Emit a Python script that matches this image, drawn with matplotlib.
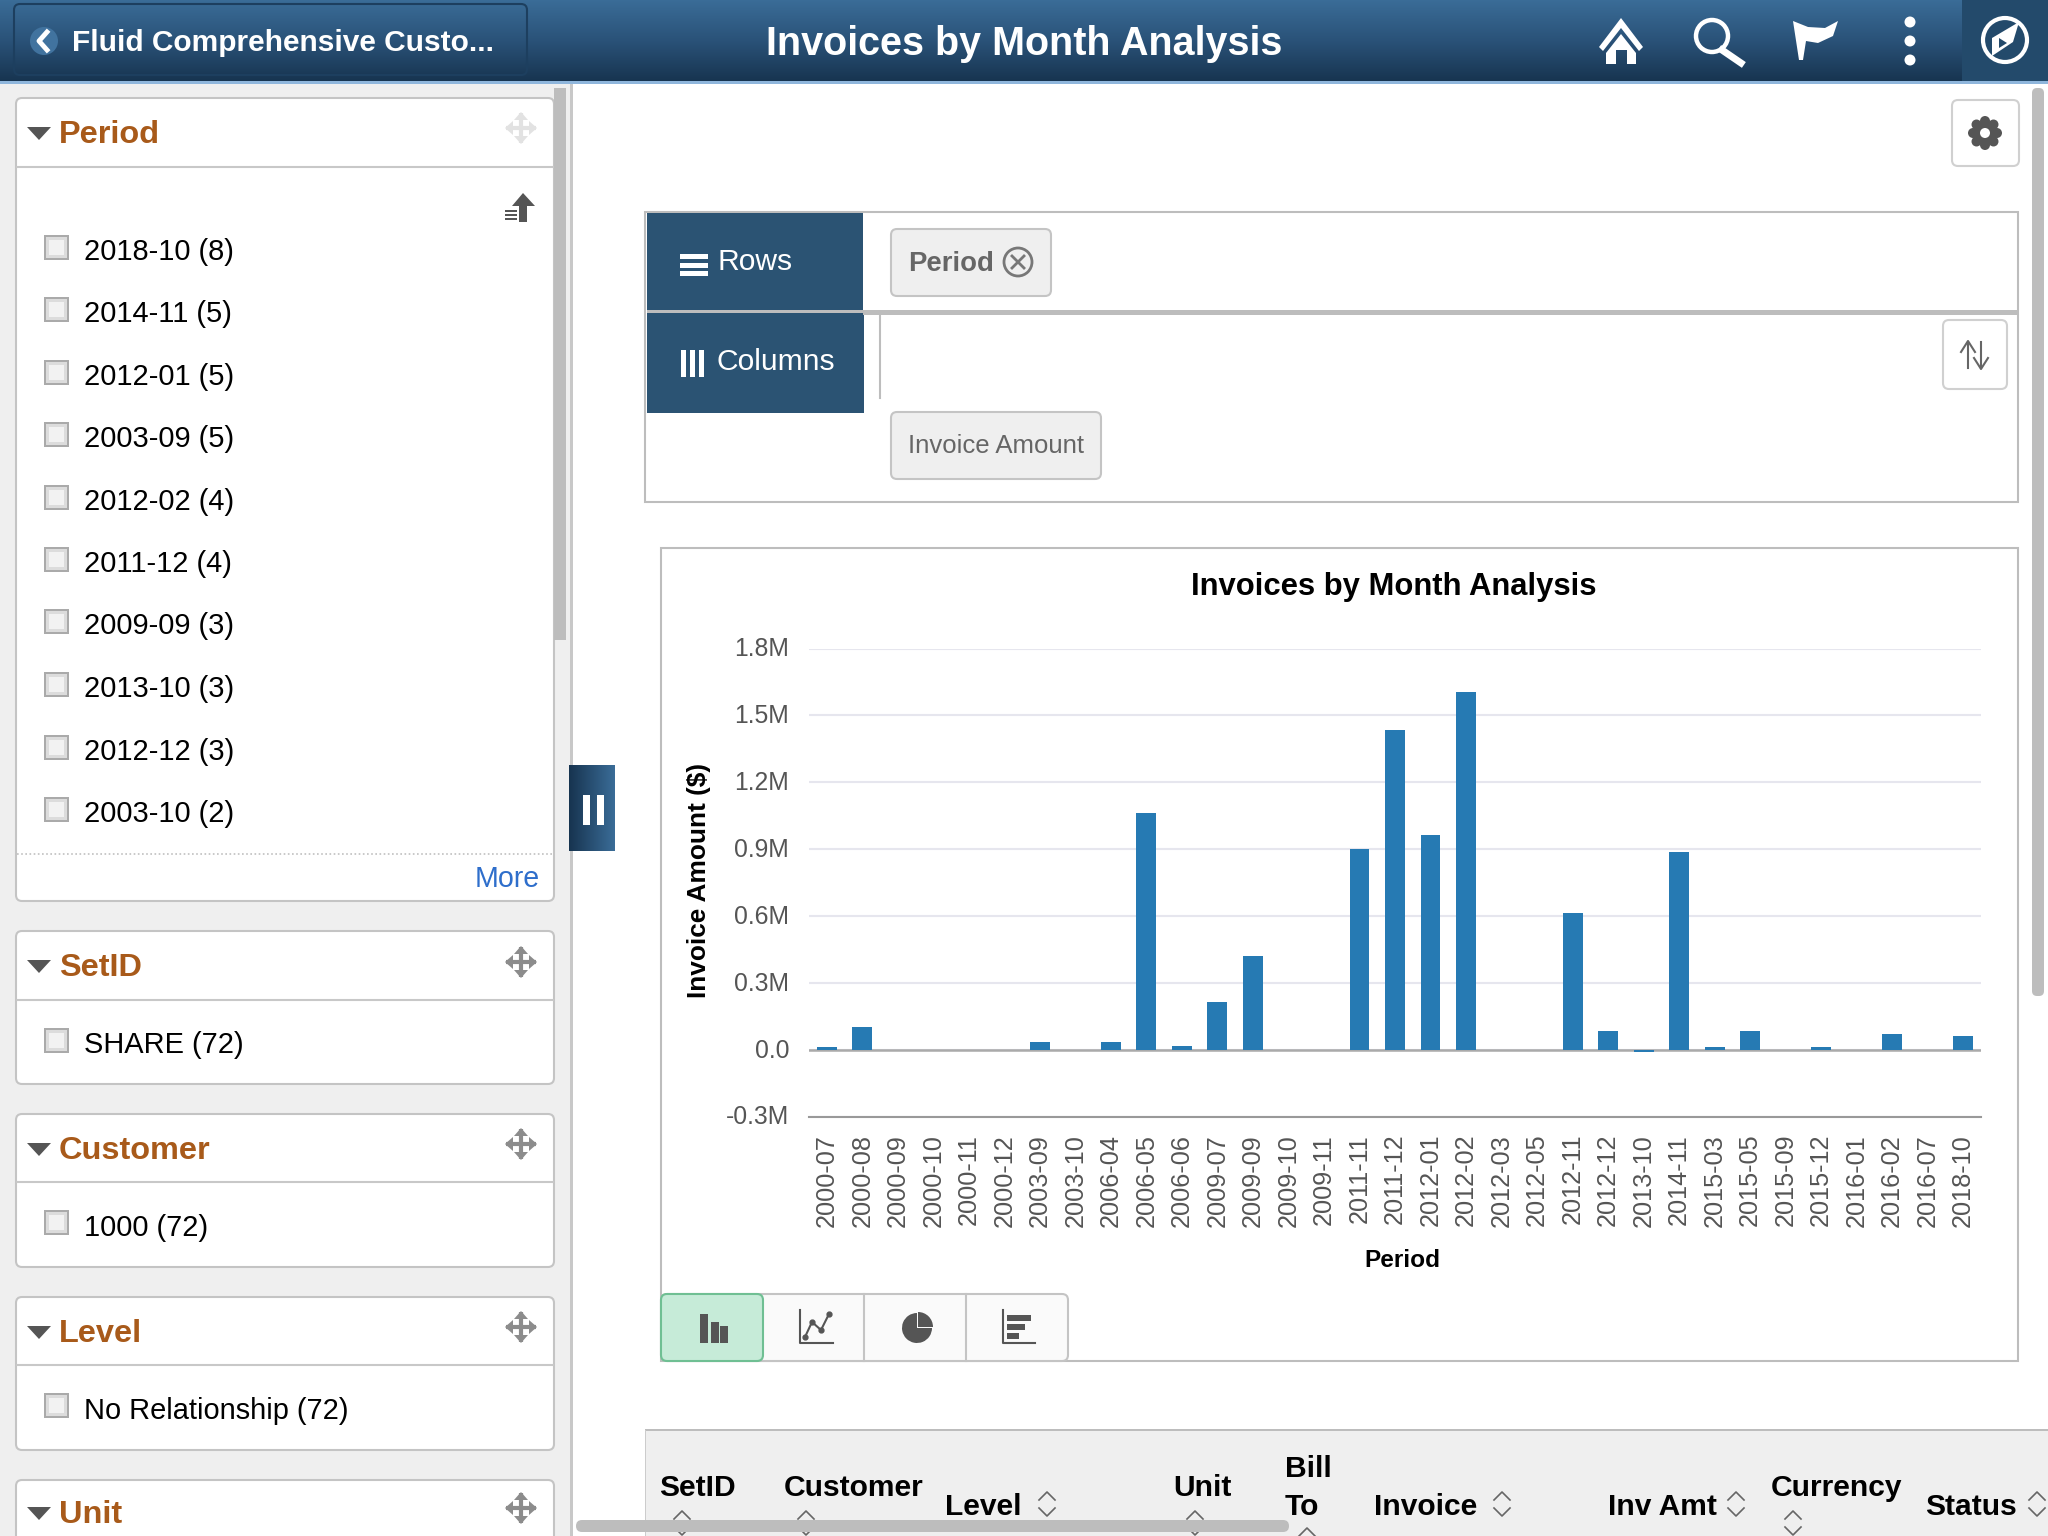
import numpy as np
import matplotlib
matplotlib.use("Agg")
import matplotlib.pyplot as plt
from matplotlib.colors import LinearSegmentedColormap
from matplotlib.patches import Circle, FancyBboxPatch, Polygon, Rectangle, Wedge
from matplotlib.transforms import ScaledTranslation

plt.rcParams['font.family'] = ['Liberation Sans', 'DejaVu Sans']

# chart data
periods = ['2000-07', '2000-08', '2000-09', '2000-10', '2000-11', '2000-12', '2003-09',
           '2003-10', '2006-04', '2006-05', '2006-06', '2009-07', '2009-09', '2009-10',
           '2009-11', '2011-11', '2011-12', '2012-01', '2012-02', '2012-03', '2012-05',
           '2012-11', '2012-12', '2013-10', '2014-11', '2015-03', '2015-05', '2015-09',
           '2015-12', '2016-01', '2016-02', '2016-07', '2018-10']
amounts = [0.012, 0.100, 0, 0, 0, 0, 0.033,
           0, 0.034, 1.063, 0.016, 0.216, 0.422, 0,
           0, 0.902, 1.435, 0.965, 1.605, 0, 0,
           0.612, 0.084, -0.012, 0.888, 0.010, 0.084, 0,
           0.012, 0, 0.072, 0, 0.062]
y_ticks = [-0.3, 0.0, 0.3, 0.6, 0.9, 1.2, 1.5, 1.8]
y_tick_labels = ['-0.3M', '0.0', '0.3M', '0.6M', '0.9M', '1.2M', '1.5M', '1.8M']

# facet panel text
period_items = ['2018-10 (8)', '2014-11 (5)', '2012-01 (5)', '2003-09 (5)', '2012-02 (4)',
                '2011-12 (4)', '2009-09 (3)', '2013-10 (3)', '2012-12 (3)', '2003-10 (2)']
period_item_y = [249, 311, 374, 436, 499, 561, 623, 686, 749, 811]

W, H = 2048, 1536
PT = 0.72  # px to pt at dpi 100
fig = plt.figure(figsize=(W / 100, H / 100), dpi=100, facecolor='white')

ui = fig.add_axes([0, 0, 1, 1], zorder=0)
ui.set_axis_off()

BLUE_CMAP = LinearSegmentedColormap.from_list('hdr', ['#3a6c97', '#2a5278', '#173450'])


def box(x0, y0, x1, y1, fc='white', ec='#c4c4c4', lw=1.5, r=6, z=2):
    p = FancyBboxPatch((x0, y0), x1 - x0, y1 - y0, boxstyle=f'round,pad=0,rounding_size={r}',
                       fc=fc, ec=ec, lw=lw, zorder=z)
    ui.add_patch(p)


def rect(x0, y0, x1, y1, c, z=2):
    ui.add_patch(Rectangle((x0, y0), x1 - x0, y1 - y0, fc=c, ec='none', zorder=z))


def txt(x, y, s, px, c='black', w='normal', ha='left', z=5):
    ui.text(x, y + 3, s, fontsize=px * PT, color=c, fontweight=w, ha=ha, va='center', zorder=z)


def poly(pts, c, z=4):
    ui.add_patch(Polygon(pts, closed=True, fc=c, ec='none', zorder=z))


def checkbox(y):
    rect(44, y - 13, 69, y + 12, '#aaaaaa', 3)
    rect(46, y - 11, 67, y + 10, '#dcdcdc', 3)
    rect(49, y - 8, 64, y + 7, '#f2f2f2', 3)


def move_icon(x, y, c):
    s = 15
    ui.plot([x - s, x + s], [y, y], color=c, lw=3, zorder=4, solid_capstyle='butt')
    ui.plot([x, x], [y - s, y + s], color=c, lw=3, zorder=4, solid_capstyle='butt')
    poly([(x - 16, y), (x - 8, y - 7), (x - 8, y + 7)], c)
    poly([(x + 16, y), (x + 8, y - 7), (x + 8, y + 7)], c)
    poly([(x, y - 16), (x - 7, y - 8), (x + 7, y - 8)], c)
    poly([(x, y + 16), (x - 7, y + 8), (x + 7, y + 8)], c)


def facet(y0, y1, line_y, title, title_y, move_y, move_c='#8c8c8c'):
    box(16, y0, 554, y1)
    ui.plot([17, 553], [line_y, line_y], color='#c8c8c8', lw=1.5, zorder=3)
    poly([(27, title_y - 3), (51, title_y - 3), (39, title_y + 10)], '#555555')
    txt(59, title_y + 2, title, 32.5, '#a85a1a', 'bold')
    move_icon(521, move_y, move_c)


def sort_icon(x, y):
    for sy in (-1, 1):
        ui.plot([x - 8, x, x + 8], [y + sy * 4, y + sy * 12, y + sy * 4], color='#666666',
                lw=1.2, zorder=5, clip_on=True)


# backgrounds
rect(0, 82, 570, H, '#efefef', 0)
rect(570, 82, 573, H, '#c8c8c8', 1)

ui.imshow(np.linspace(0, 1, 82).reshape(-1, 1), cmap=BLUE_CMAP, aspect='auto',
          extent=(0, W, 82, 0), zorder=1)
rect(0, 81, W, 84, '#8fb6dc', 2)
rect(1962, 0, W, 81, '#234a6b', 2)
box(14, 4, 527, 75, fc='none', ec='#1d3f5f', lw=1.5, r=6, z=3)

# header content
ui.add_patch(Circle((44, 41), 14, fc='#41739f', ec='none', zorder=4))
ui.plot([47, 39, 47], [32, 41, 50], color='white', lw=3.5, zorder=5)
ui.text(72, 43, 'Fluid Comprehensive Custo...', fontsize=21.5, color='white', fontweight='bold',
        va='center', zorder=5)
txt(1024, 41, 'Invoices by Month Analysis', 39.5, 'white', 'bold', 'center')

poly([(1621, 18), (1599, 47), (1603, 51), (1621, 28), (1639, 51), (1643, 47)], 'white')
poly([(1621, 34), (1606, 53), (1606, 64), (1616, 64), (1616, 50), (1627, 50), (1627, 64),
      (1636, 64), (1636, 53)], 'white')
ui.add_patch(Circle((1712, 36), 16, fc='none', ec='white', lw=3.2, zorder=5))
ui.plot([1722, 1741], [50, 63], color='white', lw=5, zorder=5)
poly([(1793, 21), (1808, 27), (1825, 28), (1838, 21), (1833, 36), (1818, 43), (1806, 41), (1803, 60),
      (1799, 60)], 'white')
for dy in (22, 41, 60):
    ui.add_patch(Circle((1910, dy), 5.5, fc='white', ec='none', zorder=5))
ui.add_patch(Circle((2005, 40), 22, fc='none', ec='white', lw=3, zorder=5))
poly([(2019, 22), (1992, 38), (1992, 56), (2013, 42)], 'white')
poly([(1999, 38), (1999, 48), (2007, 43)], '#234a6b', 6)

# facets on the left
facet(98, 901, 167, 'Period', 130, 128, '#e2e2e2')
poly([(523, 193), (512, 206), (519, 206), (519, 222), (527, 222), (527, 206), (535, 206)], '#555555')
for i, ly in enumerate((210, 214, 218)):
    rect(505, ly, 517, ly + 2, '#555555', 4)
for label, ly in zip(period_items, period_item_y):
    checkbox(ly - 1)
    txt(84, ly, label, 29)
ui.plot([17, 553], [854, 854], color='#c0c0c0', lw=1.2, ls=(0, (1, 1.5)), zorder=3)
txt(540, 876, 'More', 28.5, '#2e6ecb', ha='right')

facet(931, 1084, 1000, 'SetID', 963, 962)
checkbox(1041)
txt(84, 1042, 'SHARE (72)', 29)
facet(1114, 1267, 1182, 'Customer', 1146, 1144)
checkbox(1223)
txt(84, 1225, '1000 (72)', 29)
facet(1297, 1450, 1365, 'Level', 1329, 1327)
checkbox(1406)
txt(84, 1408, 'No Relationship (72)', 29)
facet(1480, 1600, 1548, 'Unit', 1510, 1508)

rect(554, 88, 566, 640, '#bdbdbd', 3)

# pause tab
ui.imshow(np.linspace(0, 1, 46).reshape(1, -1), cmap=LinearSegmentedColormap.from_list(
    'tab', ['#173450', '#3a6c97']), aspect='auto', extent=(569, 615, 851, 765), zorder=3)
rect(583, 795, 590, 825, 'white', 4)
rect(597, 795, 604, 825, 'white', 4)

# settings button
box(1952, 100, 2019, 166, ec='#d0d0d0')
for a in np.deg2rad(np.arange(0, 360, 45)):
    ui.add_patch(Circle((1985 + 12 * np.cos(a), 133 + 12 * np.sin(a)), 5, fc='#555555', ec='none', zorder=4))
ui.add_patch(Circle((1985, 133), 11, fc='#555555', ec='none', zorder=4))
ui.add_patch(Circle((1985, 133), 5, fc='white', ec='none', zorder=5))

# rows and columns block
ui.add_patch(Rectangle((645, 212), 1373, 290, fc='white', ec='#bdbdbd', lw=1.5, zorder=1))
rect(647, 213, 863, 310, '#2b5373')
rect(647, 313, 864, 413, '#2b5373')
rect(863, 310, 2018, 315, '#bdbdbd', 3)
rect(647, 310, 863, 313, '#bdbdbd', 3)
ui.plot([880, 880], [315, 398], color='#bdbdbd', lw=1.5, zorder=3)
for ly in (254, 263, 271):
    rect(680, ly, 708, ly + 5, 'white', 4)
for lx in (681, 690, 699):
    rect(lx, 350, lx + 5, 377, 'white', 4)
txt(717, 259.5, 'Rows', 30, 'white')
txt(717, 359.5, 'Columns', 30, 'white')
box(891, 229, 1051, 296, fc='#efefef', ec='#c4c4c4')
txt(908, 261, 'Period', 27.5, '#666666', 'bold')
ui.add_patch(Circle((1018, 262), 14, fc='none', ec='#777777', lw=2, zorder=5))
ui.plot([1012, 1024], [256, 268], color='#777777', lw=2, zorder=5)
ui.plot([1012, 1024], [268, 256], color='#777777', lw=2, zorder=5)
box(891, 412, 1101, 479, fc='#efefef', ec='#c4c4c4')
txt(908, 443, 'Invoice Amount', 25.7, '#666666')
box(1943, 320, 2007, 389, ec='#d0d0d0')
ui.plot([1968, 1968], [342, 368], color='#666666', lw=1.5, zorder=5)
ui.plot([1961, 1968, 1975], [352, 341, 352], color='#666666', lw=1.5, zorder=5)
ui.plot([1981, 1981], [342, 368], color='#666666', lw=1.5, zorder=5)
ui.plot([1974, 1981, 1988], [358, 369, 358], color='#666666', lw=1.5, zorder=5)

# chart frame and type buttons
ui.add_patch(Rectangle((661, 548), 1357, 813, fc='white', ec='#bdbdbd', lw=1.5, zorder=1))
box(661, 1294, 1068, 1361, fc='#fafafa', ec='#c4c4c4', z=2)
box(661, 1294, 763, 1361, fc='#c6ebd8', ec='#6fbf93', z=3)
for dx in (864, 966):
    ui.plot([dx, dx], [1294, 1361], color='#c4c4c4', lw=1.5, zorder=3)
for bx, by in ((700, 1314), (711, 1322), (720, 1326)):
    rect(bx, by, bx + 8, 1343, '#555555', 4)
ui.plot([800, 800, 833], [1310, 1343, 1343], color='#555555', lw=1.5, zorder=4)
ui.plot([805, 812, 821, 829], [1337, 1322, 1330, 1314], color='#555555', lw=1.5, marker='o',
        markersize=3.5, zorder=4)
ui.add_patch(Wedge((917, 1328), 15, 0, 270, fc='#555555', ec='none', zorder=4))
ui.add_patch(Wedge((918, 1327), 15, 270, 360, fc='#555555', ec='none', zorder=4))
ui.plot([1003, 1003, 1035], [1310, 1343, 1343], color='#555555', lw=1.5, zorder=4)
for bw, by in ((24, 1315), (18, 1324), (12, 1333)):
    rect(1007, by, 1007 + bw, by + 6, '#555555', 4)

# table header strip
rect(645, 1430, W, H, '#efefef', 1)
rect(645, 1429, W, 1431, '#bdbdbd', 2)
rect(645, 1430, 646, H, '#cccccc', 2)
header_cols = [('SetID', 659, 1485), ('Customer', 784, 1485), ('Level', 945, 1504), ('Unit', 1173, 1485),
               ('Bill', 1285, 1466), ('To', 1285, 1504), ('Invoice', 1374, 1504), ('Inv Amt', 1608, 1504),
               ('Currency', 1771, 1485), ('Status', 1925, 1504)]
for name, hx, hy in header_cols:
    txt(hx, hy, name, 30, 'black', 'bold')
for sx, sy in ((682, 1523), (806, 1523), (1047, 1504), (1195, 1523), (1307, 1540), (1502, 1504),
               (1736, 1504), (1793, 1523), (2037, 1504)):
    sort_icon(sx, sy)

# scrollbars
box(576, 1520, 1289, 1532, fc='#bdbdbd', ec='none', r=6, z=6)
box(2032, 88, 2044, 996, fc='#bdbdbd', ec='none', r=5, z=6)

ui.set_xlim(0, W)
ui.set_ylim(H, 0)

# the chart itself
left, right, top, bottom = 809, 1981, 648.5, 1116.5
ax = fig.add_axes([left / W, 1 - bottom / H, (right - left) / W, (bottom - top) / H], zorder=2)
ax.patch.set_alpha(0)
x = np.arange(len(periods))
ax.bar(x, amounts, width=0.56, color='#267ab3', zorder=3)
ax.set_xlim(-0.5, len(periods) - 0.5)
ax.set_ylim(-0.3, 1.8)
ax.set_yticks(y_ticks)
ax.set_yticklabels(y_tick_labels)
ax.set_xticks(x)
ax.set_xticklabels(periods, rotation=90)
ax.tick_params(axis='y', length=0, pad=14.3, labelsize=17.8, labelcolor='#555555')
ax.tick_params(axis='x', length=0, pad=12.5, labelsize=18.2, labelcolor='#555555')
nudge = ScaledTranslation(0, 1.5 / 100, fig.dpi_scale_trans)
for lab in ax.get_yticklabels():
    lab.set_transform(lab.get_transform() + nudge)
ax.grid(axis='y', color='#e6e6ee', lw=1.5, zorder=0)
for name in ('top', 'left', 'right'):
    ax.spines[name].set_visible(False)
ax.spines['bottom'].set_color('#999999')
ax.spines['bottom'].set_linewidth(1.5)
ax.axhline(0, color='#aaaaaa', lw=1.8, zorder=2)
ax.set_xlabel('Period', fontsize=17.6, fontweight='bold', color='black')
ax.xaxis.set_label_coords((1402 - left) / (right - left), (bottom - 1249) / (bottom - top))
ax.set_ylabel('Invoice Amount ($)', fontsize=18.9, fontweight='bold', color='black')
ax.yaxis.set_label_coords((711 - left) / (right - left), (bottom - 881) / (bottom - top))
ax.set_title('Invoices by Month Analysis', fontsize=22.3, fontweight='bold', color='black',
             x=(1394 - left) / (right - left), y=(bottom - 603) / (bottom - top))

fig.savefig('out.png', dpi=100)
